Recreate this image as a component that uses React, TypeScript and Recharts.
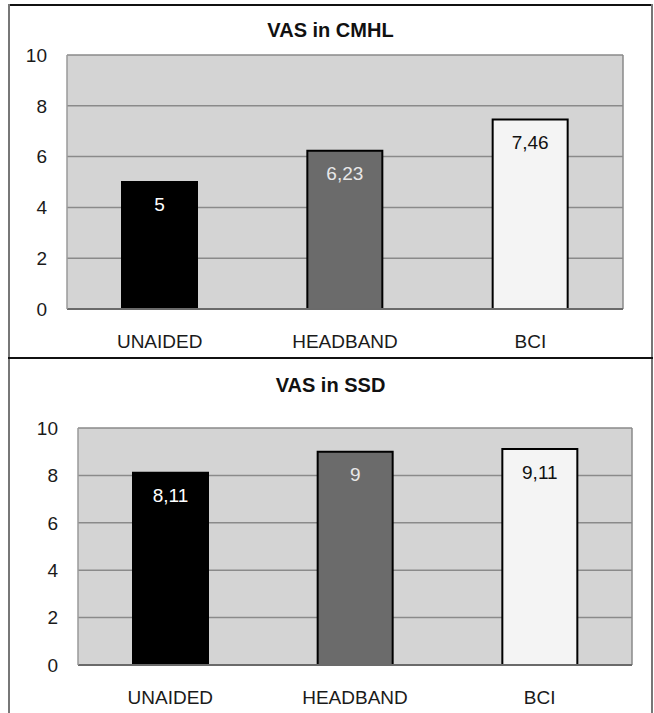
import { BarChart, Bar, XAxis, YAxis, CartesianGrid, Cell, LabelList } from 'recharts';

const categories = ['UNAIDED', 'HEADBAND', 'BCI'];
const cmhlValues = [5, 6.23, 7.46];
const ssdValues = [8.11, 9, 9.11];
const yTicks = [0, 2, 4, 6, 8, 10];

const barFills = ['#000000', '#6b6b6b', '#f4f4f4'];
const labelColors = ['#ffffff', '#e8e8e8', '#111111'];

const font = '"Liberation Sans", Arial, sans-serif';

const formatComma = (v: number) => String(v).replace('.', ',');

function BarValueLabel(props: any) {
  const { x, y, width, value, index } = props;
  return (
    <text
      x={x + width / 2}
      y={y + 16}
      dy="0.71em"
      textAnchor="middle"
      fill={labelColors[index]}
      fontSize={19}
      fontFamily={font}
    >
      {formatComma(value)}
    </text>
  );
}

interface PanelProps {
  title: string;
  values: number[];
  top: number;
  height: number;
  margin: { top: number; right: number; left: number; bottom: number };
  yWidth: number;
  titleY: number;
}

function Panel({ title, values, top, height, margin, yWidth, titleY }: PanelProps) {
  const data = categories.map((name, i) => ({ name, value: values[i] }));
  return (
    <div style={{ position: 'absolute', left: 10, top, width: 641, height }}>
      <div
        style={{
          position: 'absolute',
          left: 0,
          width: 641,
          top: titleY - 12,
          textAlign: 'center',
          fontFamily: font,
          fontWeight: 'bold',
          fontSize: 20,
          color: '#111',
          lineHeight: '24px',
        }}
      >
        {title}
      </div>
      <BarChart width={641} height={height} data={data} margin={margin}>
        <CartesianGrid
          fill="#d4d4d4"
          stroke="#8a8a8a"
          strokeWidth={1.5}
          verticalCoordinatesGenerator={({ offset }: any) => [offset.left + offset.width]}
        />
        <XAxis
          dataKey="name"
          height={48}
          tickLine={false}
          tickMargin={20}
          axisLine={{ stroke: '#6a6a6a', strokeWidth: 2 }}
          tick={{ fill: '#1a1a1a', fontSize: 19, fontFamily: font }}
        />
        <YAxis
          domain={[0, 10]}
          ticks={yTicks}
          width={yWidth}
          tickLine={false}
          tickMargin={14}
          axisLine={{ stroke: '#9a9a9a', strokeWidth: 1.5 }}
          tick={{ fill: '#1a1a1a', fontSize: 19, fontFamily: font }}
        />
        <Bar dataKey="value" barSize={75} stroke="#000" strokeWidth={2} isAnimationActive={false}>
          {data.map((d, i) => (
            <Cell key={d.name} fill={barFills[i]} />
          ))}
          <LabelList dataKey="value" content={BarValueLabel} />
        </Bar>
      </BarChart>
    </div>
  );
}

export default function App() {
  return (
    <div style={{ position: 'absolute', left: 0, top: 0, width: 654, height: 713, background: '#fff', overflow: 'hidden' }}>
      {/* frame */}
      <div style={{ position: 'absolute', left: 8, top: 4, width: 644, height: 2, background: '#111' }} />
      <div style={{ position: 'absolute', left: 8, top: 4, width: 2, height: 709, background: '#777' }} />
      <div style={{ position: 'absolute', left: 651, top: 4, width: 2, height: 709, background: '#777' }} />
      <div style={{ position: 'absolute', left: 8, top: 357, width: 645, height: 2, background: '#111' }} />

      <Panel
        title="VAS in CMHL"
        values={cmhlValues}
        top={6}
        height={351}
        margin={{ top: 49, right: 28, left: 0, bottom: 0 }}
        yWidth={57}
        titleY={24}
      />
      <Panel
        title="VAS in SSD"
        values={ssdValues}
        top={359}
        height={354}
        margin={{ top: 69, right: 19, left: 0, bottom: 0 }}
        yWidth={68}
        titleY={26}
      />
    </div>
  );
}
